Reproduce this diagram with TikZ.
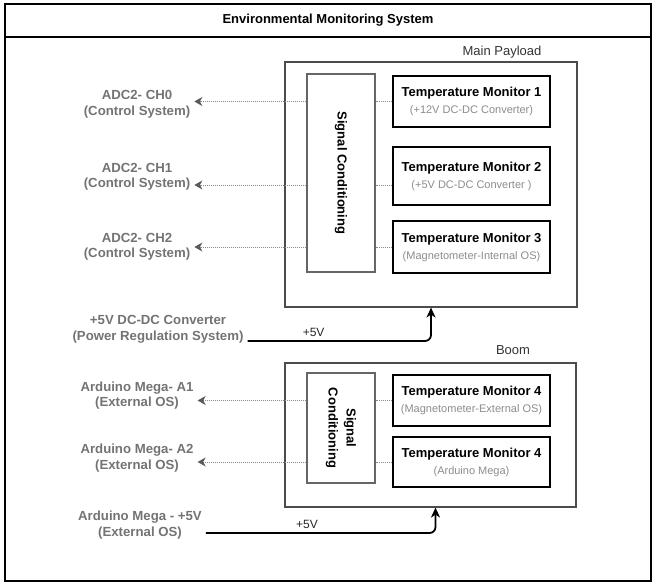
\documentclass[tikz,border=0pt]{standalone}
\usepackage{fontspec}
\setmainfont{Liberation Sans}
\usetikzlibrary{arrows.meta}

\newcommand{\tmsub}[1]{{\fontsize{11}{17}\selectfont\mdseries\color{black!45}#1}}

\begin{document}
\begin{tikzpicture}[x=1pt, y=-1pt,
    src/.style={align=center, text=black!55, inner sep=4pt,
      font=\fontsize{13.2}{15.5}\selectfont\bfseries},
    group/.style={draw=black!70, line width=1.1pt},
    scbox/.style={draw=black!60, line width=1.1pt, minimum width=68pt},
    tmbox/.style={draw=black, line width=1.8pt, minimum width=157pt, align=center,
      inner sep=0pt, font=\fontsize{13}{17}\selectfont\bfseries},
    sig/.style={draw=black!45, line width=0.8pt, dash pattern=on 1pt off 1pt},
    tip/.style={-{Stealth[length=8pt,width=9pt,inset=2.5pt,black!65]}},
    pw/.style={line width=1.8pt, rounded corners=6pt, -{Stealth[length=10pt,width=9pt,inset=3pt]}},
    vlabel/.style={font=\fontsize{12}{14}\selectfont, text=black!85, inner sep=3pt}]
    \useasboundingbox (0,0) rectangle (653,586);

    % frame and title
    \draw[line width=1.5pt] (5,4) rectangle (651,581);
    \node[draw, line width=1.5pt, minimum width=646pt, minimum height=33pt,
      font=\fontsize{13}{15}\selectfont\bfseries] (title) at (328,20.5)
      {Environmental Monitoring System};

    % main payload
    \node[group, minimum width=292pt, minimum height=245pt] (payload) at (431,184.5) {};
    \node[font=\fontsize{13}{15}\selectfont, text=black!80] (payloadlbl) at (502,52) {Main Payload};
    \node[scbox, minimum height=198pt] (sc1) at (341,173) {};
    \node[rotate=-90, font=\fontsize{13}{15}\selectfont\bfseries] (sc1txt) at (sc1) {Signal Conditioning};
    \node[tmbox, minimum height=51pt] (tm1) at (471.5,101.5)
      {Temperature Monitor 1\\\tmsub{(+12V DC-DC Converter)}};
    \node[tmbox, minimum height=58pt] (tm2) at (471.5,176)
      {Temperature Monitor 2\\\tmsub{(+5V DC-DC Converter )}};
    \node[tmbox, minimum height=52pt] (tm3) at (471.5,247)
      {Temperature Monitor 3\\\tmsub{(Magnetometer-Internal OS)}};

    % boom
    \node[group, minimum width=291pt, minimum height=144pt] (boom) at (430.5,435) {};
    \node[font=\fontsize{13}{15}\selectfont, text=black!80] (boomlbl) at (513,350) {Boom};
    \node[scbox, minimum height=110pt] (sc2) at (341,428) {};
    \node[rotate=-90, align=center, font=\fontsize{13}{18}\selectfont\bfseries] (sc2txt) at (sc2)
      {Signal\\Conditioning};
    \node[tmbox, minimum height=51pt] (tm4) at (471.5,400.5)
      {Temperature Monitor 4\\\tmsub{(Magnetometer-External OS)}};
    \node[tmbox, minimum height=50pt] (tm5) at (471.5,462)
      {Temperature Monitor 4\\\tmsub{(Arduino Mega)}};

    % sources and sinks
    \node[src] (adc0) at (137,104.5) {ADC2- CH0\\(Control System)};
    \node[src] (adc1) at (137,177) {ADC2- CH1\\(Control System)};
    \node[src] (adc2) at (137,247) {ADC2- CH2\\(Control System)};
    \node[src] (pwr) at (158,329.5) {+5V DC-DC Converter\\(Power Regulation System)};
    \node[src] (ard1) at (137,395.5) {Arduino Mega- A1\\(External OS)};
    \node[src] (ard2) at (137,458) {Arduino Mega- A2\\(External OS)};
    \node[src] (ardpwr) at (140,525) {Arduino Mega - +5V\\(External OS)};

    % signal lines
    \draw[sig] (tm1.west) -- (tm1.west -| sc1.east);
    \draw[sig, tip] (tm1.west -| sc1.west) -- (tm1.west -| adc0.east);
    \draw[sig] ([yshift=-9pt]tm2.west) -- ([yshift=-9pt]tm2.west -| sc1.east);
    \draw[sig, tip] ([yshift=-9pt]tm2.west -| sc1.west) -- ([yshift=-9pt]tm2.west -| adc1.east);
    \draw[sig] (tm3.west) -- (tm3.west -| sc1.east);
    \draw[sig, tip] (tm3.west -| sc1.west) -- (tm3.west -| adc2.east);
    \draw[sig] (tm4.west) -- (tm4.west -| sc2.east);
    \draw[sig, tip] (tm4.west -| sc2.west) -- (tm4.west -| ard1.east);
    \draw[sig] (tm5.west) -- (tm5.west -| sc2.east);
    \draw[sig, tip] (tm5.west -| sc2.west) -- (tm5.west -| ard2.east);

    % power lines
    \draw[pw] ([yshift=-11.5pt]pwr.east) -| node[vlabel, above, pos=0.18] {+5V} (payload.south);
    \draw[pw] ([yshift=-8pt]ardpwr.east) -| node[vlabel, above, pos=0.22] {+5V} ([xshift=5pt]boom.south);
\end{tikzpicture}
\end{document}
